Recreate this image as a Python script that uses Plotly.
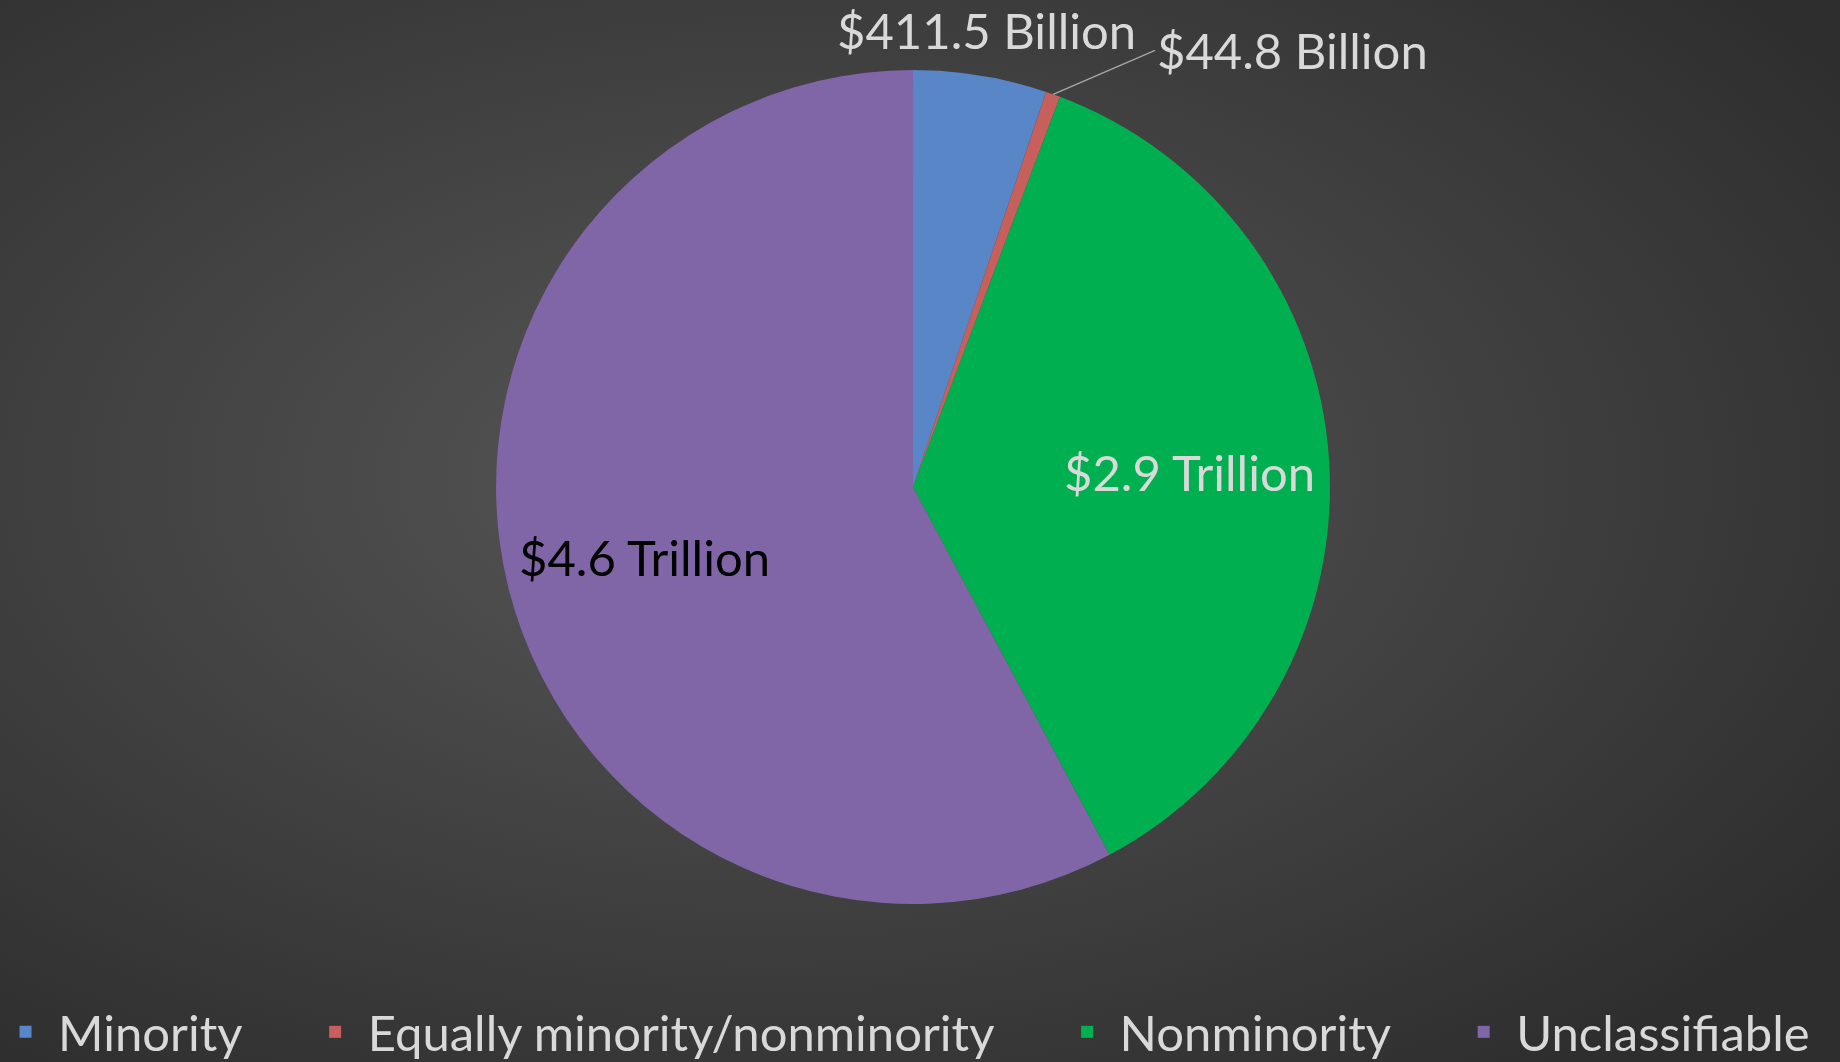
import base64
import math
import plotly.graph_objects as go

categories = ["Minority", "Equally minority/nonminority", "Nonminority", "Unclassifiable"]
values_billion = [411.5, 44.8, 2900, 4600]
value_labels = ["$411.5 Billion", "$44.8 Billion", "$2.9 Trillion", "$4.6 Trillion"]
slice_colors = ["#5886c6", "#c75f5c", "#00b050", "#8066a6"]
label_colors = ["#d9d9d9", "#d9d9d9", "#d9d9d9", "#000000"]
label_modes = ["above", "callout", "inside", "inside"]

W, H = 1840, 1062
FONT = "Lato, 'Open Sans', sans-serif"
FS = 49
DOM_X = [0.2696, 0.7228]
DOM_Y = [0.1488, 0.934]

svg = (
    f'<svg xmlns="http://www.w3.org/2000/svg" width="{W}" height="{H}">'
    '<defs><radialGradient id="g" cx="0.42" cy="0.45" r="0.7">'
    '<stop offset="0" stop-color="#575757"/>'
    '<stop offset="1" stop-color="#2e2e2e"/>'
    '</radialGradient></defs>'
    f'<rect width="{W}" height="{H}" fill="url(#g)"/></svg>'
)
bg_uri = "data:image/svg+xml;base64," + base64.b64encode(svg.encode()).decode()

# legend entries padded with non-breaking spaces to widen the gaps between items
legend_names = [
    "\u00a0" + c + ("\u00a0" * 5 + "\u2009" if k < len(categories) - 1 else "")
    for k, c in enumerate(categories)
]

fig = go.Figure(
    go.Pie(
        labels=legend_names,
        values=values_billion,
        customdata=categories,
        text=value_labels,
        textinfo="none",
        hovertemplate="%{customdata}: %{text}<extra></extra>",
        sort=False,
        direction="clockwise",
        rotation=0,
        marker=dict(colors=slice_colors, line=dict(width=0)),
        domain=dict(x=DOM_X, y=DOM_Y),
    )
)

# data labels placed along each slice's mid-angle
total = sum(values_billion)
cx_px = (DOM_X[0] + DOM_X[1]) / 2 * W
cy_px = (DOM_Y[0] + DOM_Y[1]) / 2 * H
radius = min((DOM_X[1] - DOM_X[0]) * W, (DOM_Y[1] - DOM_Y[0]) * H) / 2

def point(i, rfrac):
    mid = (sum(values_billion[:i]) + values_billion[i] / 2) / total
    th = 2 * math.pi * mid
    return ((cx_px + rfrac * radius * math.sin(th)) / W,
            (cy_px + rfrac * radius * math.cos(th)) / H)

for i, mode in enumerate(label_modes):
    font = dict(family=FONT, size=FS, color=label_colors[i])
    if mode == "inside":
        x, y = point(i, 0.665)
        fig.add_annotation(x=x, y=y, xref="paper", yref="paper", text=value_labels[i],
                           showarrow=False, xanchor="center", yanchor="middle",
                           yshift=-3, font=font)
    elif mode == "above":
        x, y = point(i, 1.0)
        fig.add_annotation(x=x, y=y, xref="paper", yref="paper", text=value_labels[i],
                           showarrow=False, xanchor="center", yanchor="middle",
                           xshift=6, yshift=46, font=font)
    else:
        x, y = point(i, 1.0)
        fig.add_annotation(x=x, y=y, xref="paper", yref="paper", text=value_labels[i],
                           showarrow=True, arrowhead=0, arrowwidth=1.5, arrowcolor="#a6a6a6",
                           ax=102, ay=-44, xanchor="left", yanchor="middle", standoff=0,
                           font=font)

fig.update_layout(
    width=W,
    height=H,
    margin=dict(l=0, r=0, t=0, b=0, autoexpand=False),
    paper_bgcolor="#444444",
    font=dict(family=FONT, color="#d9d9d9"),
    images=[dict(source=bg_uri, xref="paper", yref="paper", x=0, y=1,
                 sizex=1, sizey=1, sizing="stretch", layer="below")],
    legend=dict(
        orientation="h",
        x=0.003, xanchor="left",
        y=-0.008, yanchor="bottom",
        font=dict(family=FONT, size=FS, color="#d9d9d9"),
        bgcolor="rgba(0,0,0,0)",
        traceorder="normal",
    ),
    showlegend=True,
)

fig.write_html("out.html", config={"displayModeBar": False},
               post_script="document.body.style.margin='0';")
